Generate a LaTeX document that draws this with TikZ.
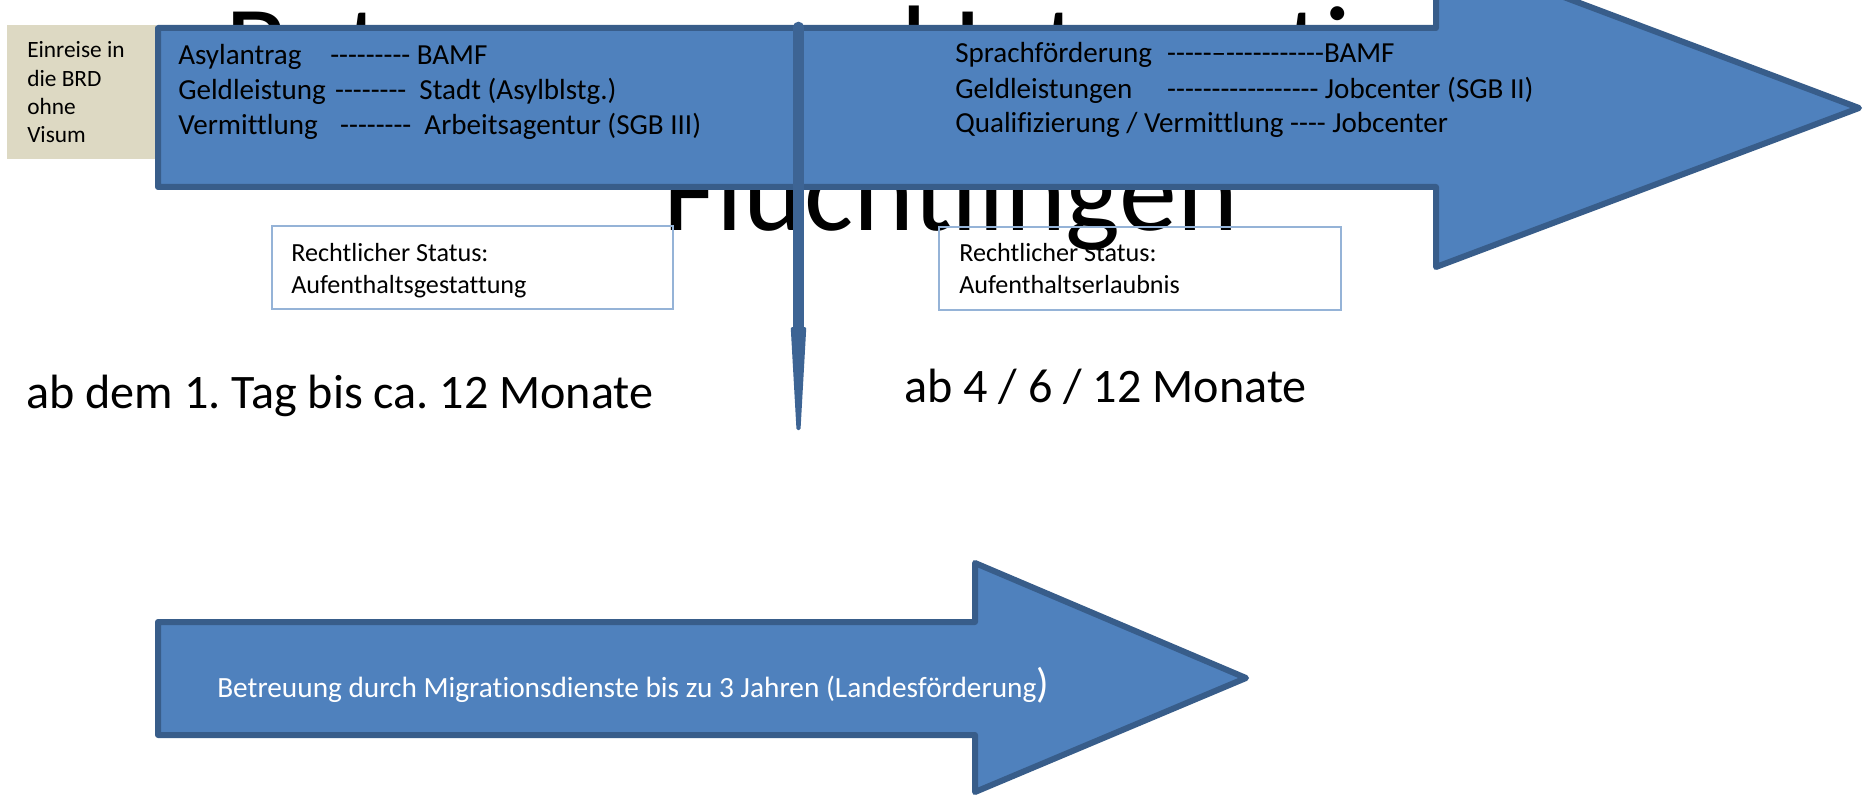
\documentclass[tikz,border=0pt]{standalone}
\usepackage{fontspec}
\setmainfont{Carlito}[Ligatures={TeXOff,CommonOff}]
\definecolor{arrowfill}{HTML}{4F81BD}
\definecolor{arrowline}{HTML}{385D8A}
\definecolor{tanfill}{HTML}{DDD9C3}
\definecolor{statusline}{HTML}{95B3D7}
\definecolor{divline}{HTML}{3D6494}
\frenchspacing
\begin{document}
\begin{tikzpicture}[x=0.75pt,y=0.75pt,yscale=-1,
  bigarrow/.style={fill=arrowfill, draw=arrowline, line width=4.5pt, line join=round},
  linetext/.style={anchor=base west, inner sep=0pt, font=\fontsize{21.8}{26}\selectfont},
  einreisetext/.style={anchor=base west, inner sep=0pt, font=\fontsize{17.5}{21}\selectfont},
  statusbox/.style={draw=statusline, line width=0.9pt},
  statustext/.style={anchor=base west, inner sep=0pt, font=\fontsize{19.6}{23}\selectfont},
  periodtext/.style={anchor=base west, inner sep=0pt, font=\fontsize{36.1}{42}\selectfont},
  titletext/.style={anchor=base, inner sep=0pt, font=\fontsize{87}{100}\selectfont}]
\useasboundingbox (0,0) rectangle (1864,795);
\clip (0,0) rectangle (1864,795);

% Title Text (behind the arrow)
\node[titletext] (title1) at (949,87) {Betreuung und Integration von};
\node[titletext] (title2) at (951,231) {Flüchtlingen};

%Shape: Rectangle [Einreise]
\fill[tanfill] (7,25) rectangle (156,159);
% Text Node
\node[einreisetext] (ein1) at (27,58) {Einreise in};
\node[einreisetext] (ein2) at (27,87) {die BRD};
\node[einreisetext] (ein3) at (27,115) {ohne};
\node[einreisetext] (ein4) at (27,143) {Visum};

%Shape: Right Arrow [top]
\draw[bigarrow] (158,28) -- (1436,28) -- (1436,-51) -- (1859,108) -- (1436,267) -- (1436,187) -- (158,187) -- cycle;

% Text Node
\node[linetext] (asyl) at (178,65) {\makebox[114pt][l]{Asylantrag}---------\hspace{4.9pt}BAMF};
\node[linetext] (geldl) at (178,100) {\makebox[117.75pt][l]{Geldleistung}--------\hspace{9.8pt}Stadt (Asylblstg.)};
\node[linetext] (vermitt) at (178,135) {\makebox[121.5pt][l]{Vermittlung}--------\hspace{9.8pt}Arbeitsagentur (SGB III)};
% Text Node
\node[linetext] (sprach) at (955,63) {\makebox[159pt][l]{Sprachförderung}-----–-----------BAMF};
\node[linetext] (geldr) at (955,99) {\makebox[159pt][l]{Geldleistungen}-----------------\hspace{4.9pt}Jobcenter (SGB II)};
\node[linetext] (quali) at (955,133) {Qualifizierung / Vermittlung ---- Jobcenter};

%Straight Lines [divider]
\coordinate (divtop) at (798.5,27);
\coordinate (divmid) at (798.5,327);
\coordinate (divtip) at (798.5,430);
\draw[divline, line width=8pt, line cap=round] (divtop) -- (divmid);
\fill[divline, rounded corners=1pt] (divmid) ++(-7.8,0) -- ++(15.6,0) -- ([xshift=1.5pt]divtip) -- ([xshift=-1.5pt]divtip) -- cycle;

%Shape: Rectangle [status]
\draw[statusbox] (272,226) rectangle (673,309);
\draw[statusbox] (939,227) rectangle (1341,310);
% Text Node
\node[statustext] (stat1) at (291,262) {Rechtlicher Status:};
\node[statustext] (gest) at (291,293) {Aufenthaltsgestattung};
\node[statustext] (stat2) at (959,262) {Rechtlicher Status:};
\node[statustext] (erl) at (959,293) {Aufenthaltserlaubnis};

% Text Node
\node[periodtext] (phase1) at (26,408) {ab dem 1. Tag bis ca. 12 Monate};
\node[periodtext] (phase2) at (904,402) {ab 4 / 6 / 12 Monate};

%Shape: Right Arrow [bottom]
\draw[bigarrow] (158,622) -- (975,622) -- (975,563) -- (1246,678) -- (975,792) -- (975,735) -- (158,735) -- cycle;
% Text Node
\node[linetext, text=white, font=\fontsize{22}{26}\selectfont] (betreuung) at (217,697) {Betreuung durch Migrationsdienste bis zu 3 Jahren (Landesförderung{\fontsize{31}{31}\selectfont)}};
\end{tikzpicture}
\end{document}
